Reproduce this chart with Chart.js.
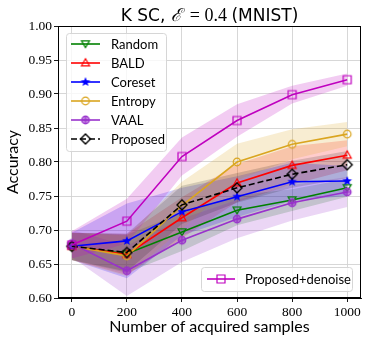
<!DOCTYPE html>
<html><head><meta charset="utf-8">
<script src="https://cdn.jsdelivr.net/npm/chart.js@4/dist/chart.umd.min.js"></script>
<style>html,body{margin:0;padding:0;background:#fff;}canvas{display:block;}</style>
</head><body>
<canvas id="c" width="370" height="346"></canvas>
<script>
// ---- data ----
const samples = [0, 200, 400, 600, 800, 1000];
const yTickValues = [0.60, 0.65, 0.70, 0.75, 0.80, 0.85, 0.90, 0.95, 1.00];
const seriesNames = ['Random', 'BALD', 'Coreset', 'Entropy', 'VAAL', 'Proposed', 'Proposed+denoise'];
const randomAcc   = [0.676, 0.665, 0.697, 0.729, 0.744, 0.762];
const baldAcc     = [0.676, 0.664, 0.718, 0.769, 0.795, 0.810];
const coresetAcc  = [0.676, 0.684, 0.727, 0.749, 0.771, 0.772];
const entropyAcc  = [0.676, 0.662, 0.736, 0.800, 0.826, 0.841];
const vaalAcc     = [0.680, 0.640, 0.685, 0.716, 0.740, 0.756];
const proposedAcc = [0.676, 0.667, 0.737, 0.762, 0.782, 0.796];
const denoiseAcc  = [0.678, 0.713, 0.808, 0.861, 0.899, 0.921];
const randomStd   = [0.020, 0.028, 0.028, 0.022, 0.016, 0.013];
const baldStd     = [0.020, 0.030, 0.030, 0.028, 0.028, 0.022];
const coresetStd  = [0.020, 0.055, 0.035, 0.030, 0.028, 0.022];
const entropyStd  = [0.020, 0.030, 0.035, 0.027, 0.022, 0.018];
const vaalStd     = [0.020, 0.037, 0.032, 0.028, 0.026, 0.022];
const proposedStd = [0.020, 0.028, 0.028, 0.022, 0.020, 0.020];
const denoiseStd  = [0.020, 0.033, 0.028, 0.024, 0.013, 0.009];

// ---- markers ----
function mk(draw){const c=document.createElement('canvas');c.width=c.height=14;const g=c.getContext('2d');g.translate(7,7);draw(g);return c;}
function markerFor(kind,color){
  return mk(g=>{
    g.strokeStyle=color;g.fillStyle=color;g.lineWidth=1.2;g.beginPath();
    if(kind==='tdown'){g.moveTo(0,3.6);g.lineTo(-4,-3.2);g.lineTo(4,-3.2);g.closePath();g.stroke();}
    else if(kind==='tup'){g.moveTo(0,-4.2);g.lineTo(-4,2.8);g.lineTo(4,2.8);g.closePath();g.stroke();}
    else if(kind==='star'){for(let i=0;i<10;i++){const r=i%2?2.2:5;const a=-Math.PI/2+i*Math.PI/5;const x=r*Math.cos(a),y=r*Math.sin(a);i?g.lineTo(x,y):g.moveTo(x,y);}g.closePath();g.fill();}
    else if(kind==='circle'){g.arc(0,0,3.8,0,Math.PI*2);g.stroke();}
    else if(kind==='vaal'){g.arc(0,0,3.8,0,Math.PI*2);g.globalAlpha=0.55;g.fill();g.globalAlpha=1;g.stroke();g.beginPath();g.moveTo(-3.8,0);g.lineTo(3.8,0);g.moveTo(0,-3.8);g.lineTo(0,3.8);g.stroke();}
    else if(kind==='diamond'){g.lineWidth=1.4;g.moveTo(0,-5);g.lineTo(5,0);g.lineTo(0,5);g.lineTo(-5,0);g.closePath();g.stroke();}
    else if(kind==='square'){g.rect(-4,-4,8,8);g.stroke();}
  });
}
const series = [
  {name:seriesNames[0], m:randomAcc,   s:randomStd,   color:'#008000', kind:'tdown',  dash:[]},
  {name:seriesNames[1], m:baldAcc,     s:baldStd,     color:'#ff0000', kind:'tup',    dash:[]},
  {name:seriesNames[2], m:coresetAcc,  s:coresetStd,  color:'#0000ff', kind:'star',   dash:[]},
  {name:seriesNames[3], m:entropyAcc,  s:entropyStd,  color:'#daa520', kind:'circle', dash:[]},
  {name:seriesNames[4], m:vaalAcc,     s:vaalStd,     color:'#9932cc', kind:'vaal',   dash:[]},
  {name:seriesNames[5], m:proposedAcc, s:proposedStd, color:'#000000', kind:'diamond',dash:[6,3]},
  {name:seriesNames[6], m:denoiseAcc,  s:denoiseStd,  color:'#bf00bf', kind:'square', dash:[]},
];
function rgba(hex,a){const n=parseInt(hex.slice(1),16);return `rgba(${n>>16},${(n>>8)&255},${n&255},${a})`;}

const datasets=[];
series.forEach((sr,i)=>{
  sr.img=markerFor(sr.kind,sr.color);
  datasets.push({data:samples.map((x,j)=>({x,y:sr.m[j]-sr.s[j]})),borderWidth:0,pointRadius:0,fill:false,order:200-i,borderColor:'transparent'});
  datasets.push({data:samples.map((x,j)=>({x,y:sr.m[j]+sr.s[j]})),borderWidth:0,pointRadius:0,fill:'-1',backgroundColor:rgba(sr.color,sr.color==='#000000'?0.15:0.2),order:200-i,borderColor:'transparent'});
});
series.forEach((sr,i)=>{
  datasets.push({data:samples.map((x,j)=>({x,y:sr.m[j]})),borderColor:sr.color,borderWidth:1.6,borderDash:sr.dash,
    pointStyle:sr.img,pointRadius:5,fill:false,tension:0,order:20-i});
});

const sans="'DejaVu Sans', sans-serif", lsans="Lato, 'Open Sans', sans-serif", serif="'Liberation Serif', 'DejaVu Serif', serif";
const deco={
  id:'deco',
  afterDraw(chart){
    const ctx=chart.ctx, a=chart.chartArea;
    ctx.save();
    ctx.strokeStyle='#000';ctx.lineWidth=1;ctx.strokeRect(a.left+0.5,a.top+0.5,a.right-a.left-1,a.bottom-a.top-1);
    // title
    ctx.fillStyle='#000';ctx.textBaseline='alphabetic';
    const parts=[['K SC, ','17px '+sans],['ℰ','italic 18px '+serif],['\u2009 = 0.4 ','18px '+serif],['(MNIST)','17px '+sans]];
    let w=0;parts.forEach(p=>{ctx.font=p[1];w+=ctx.measureText(p[0]).width;});
    let x=(a.left+a.right)/2-w/2;parts.forEach(p=>{ctx.font=p[1];ctx.textAlign='left';ctx.fillText(p[0],x,21);x+=ctx.measureText(p[0]).width;});
    // axis labels
    ctx.font='16px '+lsans;ctx.textAlign='center';ctx.textBaseline='middle';
    ctx.fillText('Number of acquired samples',(a.left+a.right)/2,327);
    ctx.save();ctx.translate(13,(a.top+a.bottom)/2);ctx.rotate(-Math.PI/2);ctx.fillText('Accuracy',0,0);ctx.restore();
    // legends
    function box(x0,y0,w0,h0){ctx.save();ctx.beginPath();const r=3;ctx.moveTo(x0+r,y0);ctx.arcTo(x0+w0,y0,x0+w0,y0+h0,r);ctx.arcTo(x0+w0,y0+h0,x0,y0+h0,r);ctx.arcTo(x0,y0+h0,x0,y0,r);ctx.arcTo(x0,y0,x0+w0,y0,r);ctx.closePath();ctx.fillStyle='rgba(255,255,255,0.8)';ctx.fill();ctx.strokeStyle='#d6d6d6';ctx.lineWidth=1;ctx.stroke();ctx.restore();}
    function entry(sr,y,x1,x2,tx){ctx.save();ctx.strokeStyle=sr.color;ctx.lineWidth=1.6;ctx.setLineDash(sr.dash);ctx.beginPath();ctx.moveTo(x1,y);ctx.lineTo(x2,y);ctx.stroke();ctx.restore();
      ctx.drawImage(sr.img,(x1+x2)/2-7,y-7);ctx.fillStyle='#000';ctx.font='13px '+lsans;ctx.textAlign='left';ctx.textBaseline='middle';ctx.fillText(sr.name,tx,y+1);}
    box(66.5,33.5,100,118);
    for(let i=0;i<6;i++) entry(series[i],44+i*19,71,100,111);
    box(201.5,267.5,151,24);
    entry(series[6],279,207,235,245);
    ctx.restore();
  }
};

new Chart(document.getElementById('c'),{
  type:'line',
  data:{datasets},
  options:{
    responsive:false,animation:false,devicePixelRatio:1,
    layout:{padding:{top:26,right:9,left:0,bottom:0}},
    plugins:{legend:{display:false},tooltip:{enabled:false},title:{display:false}},
    scales:{
      x:{type:'linear',min:-50,max:1050,
        afterBuildTicks:s=>{s.ticks=samples.map(v=>({value:v}));},
        afterFit:s=>{s.height=48;},
        grid:{color:'#d2d2d2',lineWidth:0.9,tickLength:4,tickColor:'#000'},
        border:{display:true,color:'#000',width:1},
        ticks:{color:'#000',font:{family:serif,size:13.5},padding:2,maxRotation:0,callback:v=>String(v)}},
      y:{type:'linear',min:0.6,max:1.0,
        afterBuildTicks:s=>{s.ticks=yTickValues.map(v=>({value:v}));},
        afterFit:s=>{s.width=58;},
        grid:{color:'#d2d2d2',lineWidth:0.9,tickLength:4,tickColor:'#000'},
        border:{display:true,color:'#000',width:1},
        ticks:{color:'#000',font:{family:serif,size:13.5},padding:2,callback:v=>Number(v).toFixed(2)}}
    }
  },
  plugins:[deco]
});
</script>
</body></html>
